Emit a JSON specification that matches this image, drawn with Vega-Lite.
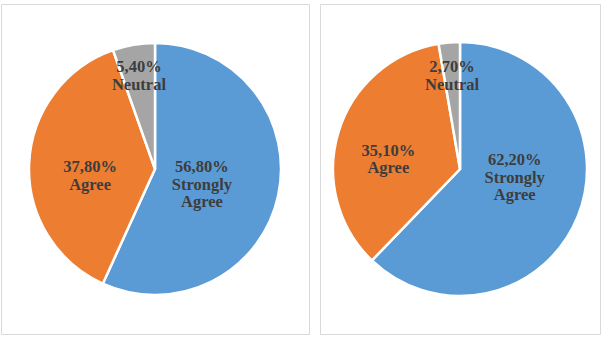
{
  "$schema": "https://vega.github.io/schema/vega-lite/v6.json",
  "padding": {"left": 0, "top": 3, "right": 0, "bottom": 0},
  "spacing": 9,
  "background": "white",
  "data": {
    "values": [
      {"panel": "A", "category": "Strongly Agree", "value": 56.8, "label": "56,80%\nStrongly\nAgree"},
      {"panel": "A", "category": "Agree", "value": 37.8, "label": "37,80%\nAgree"},
      {"panel": "A", "category": "Neutral", "value": 5.4, "label": "5,40%\nNeutral"},
      {"panel": "B", "category": "Strongly Agree", "value": 62.2, "label": "62,20%\nStrongly\nAgree"},
      {"panel": "B", "category": "Agree", "value": 35.1, "label": "35,10%\nAgree"},
      {"panel": "B", "category": "Neutral", "value": 2.7, "label": "2,70%\nNeutral"}
    ]
  },
  "hconcat": [
    {
      "width": 308,
      "height": 330,
      "view": {"stroke": "#d9d9d9", "strokeWidth": 1},
      "transform": [{"filter": "datum.panel === 'A'"}],
      "encoding": {
        "theta": {"field": "value", "type": "quantitative", "stack": true},
        "order": {"field": "value", "type": "quantitative", "sort": "descending"}
      },
      "layer": [
        {
          "mark": {"type": "arc", "outerRadius": 126, "stroke": "white", "strokeWidth": 2.5},
          "encoding": {
            "color": {"field": "category", "type": "nominal", "legend": null,
              "scale": {"domain": ["Strongly Agree", "Agree", "Neutral"], "range": ["#5B9BD5", "#ED7D31", "#A5A5A5"]}}
          }
        },
        {
          "mark": {"type": "text", "radius": 48, "dy": -12, "font": "Liberation Serif", "fontWeight": "bold", "fontSize": 16.5, "fill": "#3d3d3d", "lineBreak": "\n", "lineHeight": 17.5},
          "encoding": {"text": {"condition": {"test": "datum.category === 'Strongly Agree'", "field": "label"}, "value": ""}}
        },
        {
          "mark": {"type": "text", "radius": 65, "dy": 1, "font": "Liberation Serif", "fontWeight": "bold", "fontSize": 16.5, "fill": "#3d3d3d", "lineBreak": "\n", "lineHeight": 17.5},
          "encoding": {"text": {"condition": {"test": "datum.category === 'Agree'", "field": "label"}, "value": ""}}
        },
        {
          "mark": {"type": "text", "radius": 95, "dy": -8, "font": "Liberation Serif", "fontWeight": "bold", "fontSize": 16.5, "fill": "#3d3d3d", "lineBreak": "\n", "lineHeight": 17.5},
          "encoding": {"text": {"condition": {"test": "datum.category === 'Neutral'", "field": "label"}, "value": ""}}
        }
      ]
    },
    {
      "width": 280,
      "height": 330,
      "view": {"stroke": "#d9d9d9", "strokeWidth": 1},
      "transform": [{"filter": "datum.panel === 'B'"}],
      "encoding": {
        "theta": {"field": "value", "type": "quantitative", "stack": true},
        "order": {"field": "value", "type": "quantitative", "sort": "descending"}
      },
      "layer": [
        {
          "mark": {"type": "arc", "outerRadius": 127, "stroke": "white", "strokeWidth": 2.5},
          "encoding": {
            "color": {"field": "category", "type": "nominal", "legend": null,
              "scale": {"domain": ["Strongly Agree", "Agree", "Neutral"], "range": ["#5B9BD5", "#ED7D31", "#A5A5A5"]}}
          }
        },
        {
          "mark": {"type": "text", "radius": 59, "dy": -31, "font": "Liberation Serif", "fontWeight": "bold", "fontSize": 16.5, "fill": "#3d3d3d", "lineBreak": "\n", "lineHeight": 17.5},
          "encoding": {"text": {"condition": {"test": "datum.category === 'Strongly Agree'", "field": "label"}, "value": ""}}
        },
        {
          "mark": {"type": "text", "radius": 75, "dy": 4, "font": "Liberation Serif", "fontWeight": "bold", "fontSize": 16.5, "fill": "#3d3d3d", "lineBreak": "\n", "lineHeight": 17.5},
          "encoding": {"text": {"condition": {"test": "datum.category === 'Agree'", "field": "label"}, "value": ""}}
        },
        {
          "mark": {"type": "text", "radius": 94, "dy": -8, "font": "Liberation Serif", "fontWeight": "bold", "fontSize": 16.5, "fill": "#3d3d3d", "lineBreak": "\n", "lineHeight": 17.5},
          "encoding": {"text": {"condition": {"test": "datum.category === 'Neutral'", "field": "label"}, "value": ""}}
        }
      ]
    }
  ],
  "config": {"view": {"stroke": "#d9d9d9", "strokeWidth": 1}}
}
